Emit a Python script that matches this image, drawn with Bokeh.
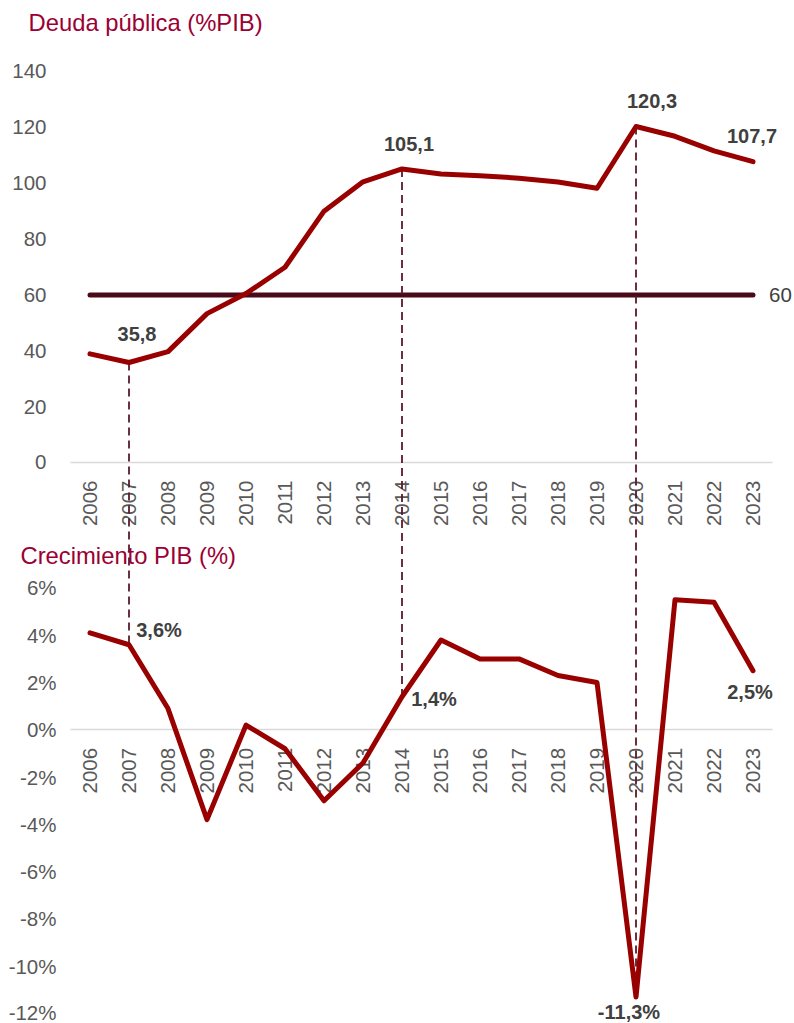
import math
from bokeh.plotting import figure
from bokeh.models import Range1d, LinearAxis, FixedTicker, Label, PrintfTickFormatter
from bokeh.embed import file_html
from bokeh.resources import INLINE

# ---------------- data ----------------
years = list(range(2006, 2024))
deuda = [38.9, 35.8, 39.7, 53.3, 60.5, 69.9, 90.0, 100.5, 105.1, 103.3,
         102.7, 101.8, 100.4, 98.2, 120.3, 116.8, 111.6, 107.7]
pib = [4.1, 3.6, 0.9, -3.8, 0.2, -0.8, -3.0, -1.4, 1.4, 3.8,
       3.0, 3.0, 2.3, 2.0, -11.3, 5.5, 5.4, 2.5]
limite = 60
deuda_ticks = [0, 20, 40, 60, 80, 100, 120, 140]
pib_ticks = [-12, -10, -8, -6, -4, -2, 0, 2, 4, 6]
marcas = [2007, 2014, 2020]
titulo_deuda = "Deuda pública (%PIB)"
titulo_pib = "Crecimiento PIB (%)"

# ---------------- styles ----------------
RED = "#990000"
MAROON = "#4a0a1a"
DASH = "#5a1a2c"
TITLE_C = "#9b0033"
TICK_C = "#595959"
LAB_C = "#404040"
FONT = "Liberation Sans"

# ranges: the frame covers the whole canvas; each value axis uses its own range
X0, X1 = 2003.705, 2024.064
D0, D1 = -200.87, 165.42
G0, G1 = -12.423, 30.853

p = figure(width=794, height=1023, x_range=Range1d(X0, X1),
           y_range=Range1d(D0, D1), output_backend="svg", toolbar_location=None,
           x_axis_type=None, y_axis_type=None,
           min_border_top=0, min_border_bottom=0, min_border_left=0, min_border_right=0)
p.extra_y_ranges = {"pib": Range1d(G0, G1)}
p.outline_line_color = None
p.background_fill_color = "white"
p.border_fill_color = "white"


def style_y(ax, standoff):
    ax.axis_line_color = None
    ax.major_tick_line_color = None
    ax.minor_tick_line_color = None
    ax.major_label_standoff = standoff
    ax.major_label_text_font = FONT
    ax.major_label_text_font_size = "20.5px"
    ax.major_label_text_color = TICK_C


def style_x(ax):
    ax.axis_line_color = "#d9d9d9"
    ax.axis_line_width = 1.5
    ax.major_tick_line_color = None
    ax.minor_tick_line_color = None
    ax.major_label_orientation = math.pi / 2
    ax.major_label_standoff = 12
    ax.major_label_text_font = FONT
    ax.major_label_text_font_size = "20.5px"
    ax.major_label_text_color = TICK_C
    ax.level = "underlay"


ax_d = LinearAxis(ticker=FixedTicker(ticks=deuda_ticks), bounds=(0, 140), fixed_location=2005.5)
style_y(ax_d, 18)
p.add_layout(ax_d, "left")

ax_g = LinearAxis(y_range_name="pib", ticker=FixedTicker(ticks=pib_ticks), bounds=(-12, 6),
                  formatter=PrintfTickFormatter(format="%d%%"), fixed_location=2005.5)
style_y(ax_g, 8)
p.add_layout(ax_g, "left")

xa_d = LinearAxis(ticker=FixedTicker(ticks=years), fixed_location=0, bounds=(2005.5, 2023.5))
style_x(xa_d)
p.add_layout(xa_d, "below")

xa_g = LinearAxis(y_range_name="pib", ticker=FixedTicker(ticks=years), fixed_location=0,
                  bounds=(2005.5, 2023.5))
style_x(xa_g)
p.add_layout(xa_g, "below")

# 60% reference line
p.line(years, [limite] * len(years), line_color=MAROON, line_width=5, line_cap="round")


# dashed connectors (growth value converted to the debt range's coordinates)
def g_to_d(g):
    return D0 + (g - G0) * (D1 - D0) / (G1 - G0)


xs = [y for y in marcas]
y0s = [deuda[years.index(y)] for y in marcas]
y1s = [g_to_d(pib[years.index(y)]) for y in marcas]
p.segment(x0=xs, y0=y0s, x1=xs, y1=y1s, line_color=DASH, line_width=1.8, line_dash="8 5")

p.line(years, deuda, line_color=RED, line_width=5, line_join="round", line_cap="round")
p.line(years, pib, y_range_name="pib", line_color=RED, line_width=5, line_join="round", line_cap="round")


def fmt(v):
    return f"{v:.1f}".replace(".", ",")


def add_label(text, x, y, dx, dy, rng="default", size="20px", bold=True, color=LAB_C, align="center"):
    p.add_layout(Label(x=x, y=y, text=text, x_offset=dx, y_offset=dy, y_range_name=rng,
                       text_font=FONT, text_font_size=size,
                       text_font_style="bold" if bold else "normal",
                       text_color=color, text_align=align, text_baseline="middle"))


# debt labels
deuda_off = {2007: (8, 29), 2014: (7, 25), 2020: (16, 26), 2023: (-1, 26)}
for y, (dx, dy) in deuda_off.items():
    add_label(fmt(deuda[years.index(y)]), y, deuda[years.index(y)], dx, dy)

pib_off = {2007: (30, 15), 2014: (32, -2), 2020: (-7, -15), 2023: (-3, -21)}
for y, (dx, dy) in pib_off.items():
    add_label(fmt(pib[years.index(y)]) + "%", y, pib[years.index(y)], dx, dy, rng="pib")

add_label(str(limite), years[-1], limite, 16, 0, size="20.5px", bold=False, align="left")

# titles
add_label(titulo_deuda, 2005.5, D1, -42, -22, size="23.8px", bold=False, color=TITLE_C, align="left")
add_label(titulo_pib, 2005.5, 6, -50, 32.5, rng="pib", size="23.8px", bold=False, color=TITLE_C, align="left")

open("out.html", "w").write(file_html(p, INLINE))
